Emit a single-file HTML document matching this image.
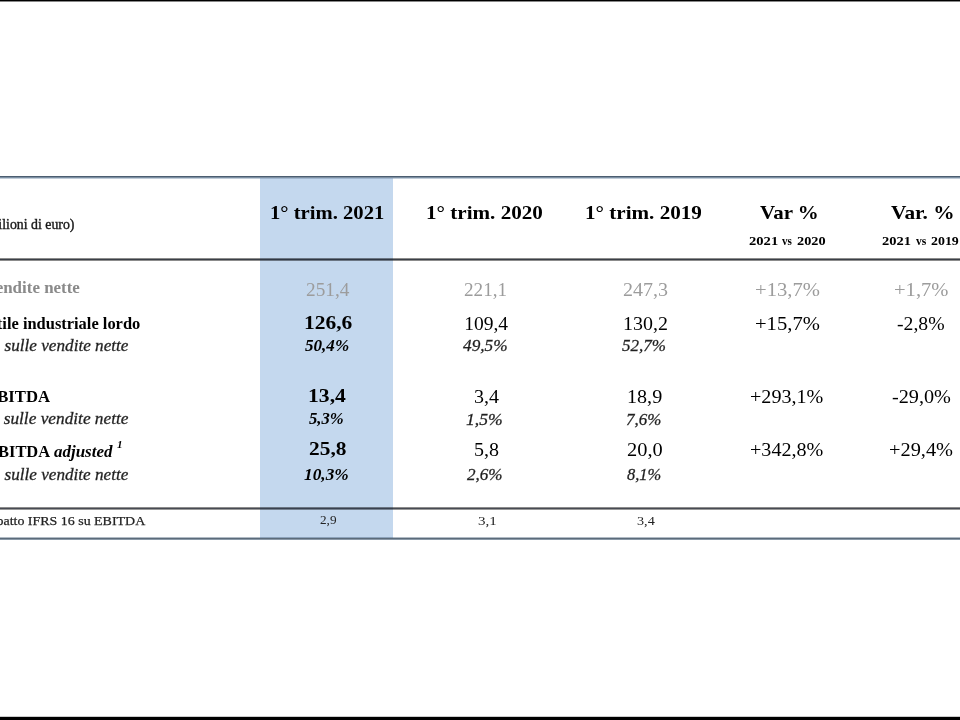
<!DOCTYPE html>
<html><head><meta charset="utf-8"><style>
html,body{margin:0;padding:0;width:960px;height:720px;overflow:hidden;background:#fff}
.t{position:absolute;white-space:nowrap;line-height:normal;transform-origin:0 0}
#wrap{position:absolute;left:0;top:0;width:960px;height:720px;filter:blur(0.5px)}
.r{position:absolute}
</style></head><body>
<!-- top/bottom black bars -->
<div class="r" style="left:0;top:0;width:960px;height:1px;background:#000"></div>
<div class="r" style="left:0;top:1px;width:960px;height:1px;background:#888"></div>
<div class="r" style="left:0;top:716px;width:960px;height:1px;background:#ccc"></div>
<div class="r" style="left:0;top:717px;width:960px;height:3px;background:#000"></div>
<!-- blue column -->
<div class="r" style="left:260px;top:178px;width:133px;height:361px;background:#c4d8ee"></div>
<!-- table lines -->
<div class="r" style="left:0;top:176px;width:960px;height:1px;background:#4b5d70"></div>
<div class="r" style="left:0;top:177px;width:960px;height:1px;background:#7d90a3"></div>
<div class="r" style="left:0;top:178px;width:960px;height:1px;background:rgba(120,145,170,0.45)"></div>
<div class="r" style="left:0;top:258px;width:960px;height:1px;background:rgba(0,0,0,0.45)"></div>
<div class="r" style="left:0;top:259px;width:960px;height:1px;background:rgba(10,15,25,0.8)"></div>
<div class="r" style="left:0;top:260px;width:960px;height:1px;background:rgba(0,0,0,0.45)"></div>
<div class="r" style="left:0;top:507px;width:960px;height:1px;background:rgba(0,0,0,0.45)"></div>
<div class="r" style="left:0;top:508px;width:960px;height:1px;background:rgba(10,15,25,0.75)"></div>
<div class="r" style="left:0;top:509px;width:960px;height:1px;background:rgba(0,0,0,0.4)"></div>
<div class="r" style="left:0;top:537px;width:960px;height:1px;background:rgba(60,85,110,0.4)"></div>
<div class="r" style="left:0;top:538px;width:960px;height:1px;background:#5b6b7a"></div>
<div class="r" style="left:0;top:539px;width:960px;height:1px;background:rgba(60,85,110,0.6)"></div>
<div id="wrap">
<div class="t" style="left:-16.64px;top:215.50px;font:14.5px 'Liberation Serif', serif;color:#111;transform:scaleX(0.9541);-webkit-text-stroke:0.4px #222">(milioni di euro)</div>
<div class="t" style="left:269.53px;top:201.80px;font:bold 19px 'Liberation Serif', serif;color:#000;transform:scaleX(1.0863);">1° trim. 2021</div>
<div class="t" style="left:426.08px;top:201.80px;font:bold 19px 'Liberation Serif', serif;color:#000;transform:scaleX(1.1107);">1° trim. 2020</div>
<div class="t" style="left:585.08px;top:201.80px;font:bold 19px 'Liberation Serif', serif;color:#000;transform:scaleX(1.1107);">1° trim. 2019</div>
<div class="t" style="left:759.80px;top:201.75px;font:bold 19px 'Liberation Serif', serif;color:#000;transform:scaleX(1.1019);">Var %</div>
<div class="t" style="left:890.80px;top:201.75px;font:bold 19px 'Liberation Serif', serif;color:#000;transform:scaleX(1.1218);">Var. %</div>
<div class="t" style="left:748.60px;top:232.80px;font:bold 13.5px 'Liberation Serif', serif;color:#000;transform:scaleX(1.0808);">2021</div>
<div class="t" style="left:782.30px;top:233.80px;font:bold 12.5px 'Liberation Serif', serif;color:#000;transform:scaleX(0.8909);">vs</div>
<div class="t" style="left:797.30px;top:232.80px;font:bold 13.5px 'Liberation Serif', serif;color:#000;transform:scaleX(1.0593);">2020</div>
<div class="t" style="left:882.10px;top:232.80px;font:bold 13.5px 'Liberation Serif', serif;color:#000;transform:scaleX(1.0731);">2021</div>
<div class="t" style="left:915.70px;top:233.80px;font:bold 12.5px 'Liberation Serif', serif;color:#000;transform:scaleX(0.9273);">vs</div>
<div class="t" style="left:930.80px;top:232.80px;font:bold 13.5px 'Liberation Serif', serif;color:#000;transform:scaleX(1.0296);">2019</div>
<div class="t" style="left:-14.56px;top:277.60px;font:bold 17px 'Liberation Serif', serif;color:#8a8a8a;transform:scaleX(0.9964);">Vendite nette</div>
<div class="t" style="left:306.21px;top:279.00px;font:19.5px 'Liberation Serif', serif;color:#9c9c9c;transform:scaleX(0.9884);">251,4</div>
<div class="t" style="left:463.82px;top:279.00px;font:19.5px 'Liberation Serif', serif;color:#9c9c9c;transform:scaleX(0.9833);">221,1</div>
<div class="t" style="left:623.17px;top:279.00px;font:19.5px 'Liberation Serif', serif;color:#9c9c9c;transform:scaleX(1.0262);">247,3</div>
<div class="t" style="left:754.54px;top:278.80px;font:19.5px 'Liberation Serif', serif;color:#9c9c9c;transform:scaleX(1.0583);">+13,7%</div>
<div class="t" style="left:893.74px;top:278.80px;font:19.5px 'Liberation Serif', serif;color:#9c9c9c;transform:scaleX(1.0560);">+1,7%</div>
<div class="t" style="left:-14.62px;top:313.60px;font:bold 17px 'Liberation Serif', serif;color:#000;transform:scaleX(0.9670);">Utile industriale lordo</div>
<div class="t" style="left:303.50px;top:312.00px;font:bold 19.5px 'Liberation Serif', serif;color:#000;transform:scaleX(1.1024);">126,6</div>
<div class="t" style="left:464.20px;top:313.00px;font:19.5px 'Liberation Serif', serif;color:#000;transform:scaleX(1.0000);">109,4</div>
<div class="t" style="left:623.36px;top:313.00px;font:19.5px 'Liberation Serif', serif;color:#000;transform:scaleX(1.0220);">130,2</div>
<div class="t" style="left:754.54px;top:312.80px;font:19.5px 'Liberation Serif', serif;color:#000;transform:scaleX(1.0567);">+15,7%</div>
<div class="t" style="left:897.29px;top:312.80px;font:19.5px 'Liberation Serif', serif;color:#000;transform:scaleX(1.0109);">-2,8%</div>
<div class="t" style="left:-14.26px;top:336.40px;font:italic 17px 'Liberation Serif', serif;color:#1a1a1a;transform:scaleX(1.0089);-webkit-text-stroke:0.35px #3a3a3a">% sulle vendite nette</div>
<div class="t" style="left:305.00px;top:336.20px;font:italic bold 17px 'Liberation Serif', serif;color:#000;transform:scaleX(1.0047);">50,4%</div>
<div class="t" style="left:463.00px;top:336.20px;font:italic 17px 'Liberation Serif', serif;color:#1a1a1a;transform:scaleX(1.0163);-webkit-text-stroke:0.3px #333">49,5%</div>
<div class="t" style="left:622.40px;top:336.20px;font:italic 17px 'Liberation Serif', serif;color:#1a1a1a;transform:scaleX(1.0023);-webkit-text-stroke:0.3px #333">52,7%</div>
<div class="t" style="left:-13.84px;top:386.60px;font:bold 17px 'Liberation Serif', serif;color:#000;transform:scaleX(0.9821);">EBITDA</div>
<div class="t" style="left:308.28px;top:385.10px;font:bold 19.5px 'Liberation Serif', serif;color:#000;transform:scaleX(1.1094);">13,4</div>
<div class="t" style="left:473.67px;top:386.00px;font:19.5px 'Liberation Serif', serif;color:#000;transform:scaleX(1.0261);">3,4</div>
<div class="t" style="left:627.14px;top:386.00px;font:19.5px 'Liberation Serif', serif;color:#000;transform:scaleX(1.0312);">18,9</div>
<div class="t" style="left:750.47px;top:385.90px;font:19.5px 'Liberation Serif', serif;color:#000;transform:scaleX(1.0314);">+293,1%</div>
<div class="t" style="left:891.76px;top:385.90px;font:19.5px 'Liberation Serif', serif;color:#000;transform:scaleX(1.0364);">-29,0%</div>
<div class="t" style="left:-14.54px;top:409.00px;font:italic 17px 'Liberation Serif', serif;color:#1a1a1a;transform:scaleX(1.0163);-webkit-text-stroke:0.35px #3a3a3a">% sulle vendite nette</div>
<div class="t" style="left:309.00px;top:410.30px;font:italic bold 16px 'Liberation Serif', serif;color:#000;transform:scaleX(1.0424);">5,3%</div>
<div class="t" style="left:466.00px;top:410.70px;font:italic 16px 'Liberation Serif', serif;color:#1a1a1a;transform:scaleX(1.1000);-webkit-text-stroke:0.3px #333">1,5%</div>
<div class="t" style="left:625.94px;top:410.70px;font:italic 16px 'Liberation Serif', serif;color:#1a1a1a;transform:scaleX(1.0594);-webkit-text-stroke:0.3px #333">7,6%</div>
<div class="t" style="left:-13.49px;top:442.40px;font:bold 17px 'Liberation Serif', serif;color:#000;transform:scaleX(0.9690);">EBITDA</div>
<div class="t" style="left:54.20px;top:442.40px;font:italic bold 17px 'Liberation Serif', serif;color:#000;transform:scaleX(0.9983);">adjusted</div>
<div class="t" style="left:116.90px;top:438.20px;font:italic bold 11px 'Liberation Serif', serif;color:#000;transform:scaleX(1.0000);">1</div>
<div class="t" style="left:309.10px;top:437.80px;font:bold 19.5px 'Liberation Serif', serif;color:#000;transform:scaleX(1.0970);">25,8</div>
<div class="t" style="left:473.67px;top:438.90px;font:19.5px 'Liberation Serif', serif;color:#000;transform:scaleX(1.0261);">5,8</div>
<div class="t" style="left:627.25px;top:438.90px;font:19.5px 'Liberation Serif', serif;color:#000;transform:scaleX(1.0455);">20,0</div>
<div class="t" style="left:750.47px;top:438.70px;font:19.5px 'Liberation Serif', serif;color:#000;transform:scaleX(1.0314);">+342,8%</div>
<div class="t" style="left:889.16px;top:438.70px;font:19.5px 'Liberation Serif', serif;color:#000;transform:scaleX(1.0433);">+29,4%</div>
<div class="t" style="left:-14.15px;top:464.70px;font:italic 17px 'Liberation Serif', serif;color:#1a1a1a;transform:scaleX(1.0081);-webkit-text-stroke:0.35px #3a3a3a">% sulle vendite nette</div>
<div class="t" style="left:304.18px;top:465.00px;font:italic bold 17px 'Liberation Serif', serif;color:#000;transform:scaleX(1.0190);">10,3%</div>
<div class="t" style="left:467.10px;top:465.30px;font:italic 17px 'Liberation Serif', serif;color:#1a1a1a;transform:scaleX(1.0057);-webkit-text-stroke:0.3px #333">2,6%</div>
<div class="t" style="left:627.00px;top:465.30px;font:italic 17px 'Liberation Serif', serif;color:#1a1a1a;transform:scaleX(0.9686);-webkit-text-stroke:0.3px #333">8,1%</div>
<div class="t" style="left:-18.69px;top:513.00px;font:13.5px 'Liberation Serif', serif;color:#222;transform:scaleX(1.0328);-webkit-text-stroke:0.25px #222">Impatto IFRS 16 su EBITDA</div>
<div class="t" style="left:319.62px;top:512.40px;font:13.5px 'Liberation Serif', serif;color:#222;transform:scaleX(0.9781);">2,9</div>
<div class="t" style="left:477.69px;top:512.50px;font:13.5px 'Liberation Serif', serif;color:#222;transform:scaleX(1.1143);">3,1</div>
<div class="t" style="left:636.65px;top:512.50px;font:13.5px 'Liberation Serif', serif;color:#222;transform:scaleX(1.0500);">3,4</div>
</div>
</body></html>
